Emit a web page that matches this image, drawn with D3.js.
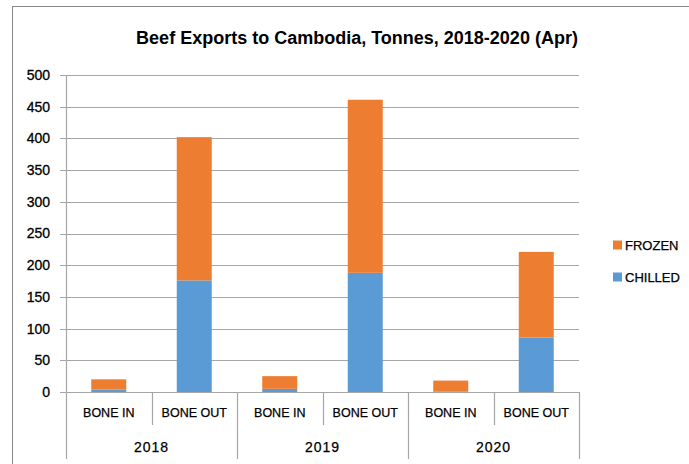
<!DOCTYPE html>
<html><head><meta charset="utf-8">
<script src="https://cdn.jsdelivr.net/npm/d3@7"></script>
<style>body{margin:0;background:#fff;} svg{display:block;}</style>
</head><body>
<script>
const years = ["2018", "2019", "2020"];
const cuts = ["BONE IN", "BONE OUT"];
const categories = ["2018|BONE IN", "2018|BONE OUT", "2019|BONE IN", "2019|BONE OUT", "2020|BONE IN", "2020|BONE OUT"];
const chilled = [4, 176, 5, 188, 1, 86];
const frozen = [16, 226, 20, 273, 17, 135];
const seriesNames = ["CHILLED", "FROZEN"];
const colors = ["#5B9BD5", "#ED7D31"];
const yTicks = [0, 50, 100, 150, 200, 250, 300, 350, 400, 450, 500];

(function () {
const W = 689, H = 464;
const font = "'Liberation Sans', Arial, sans-serif";
const svg = d3.select("body").append("svg").attr("width", W).attr("height", H);
svg.append("rect").attr("x", 12.5).attr("y", 6.5).attr("width", 700).attr("height", 500)
  .attr("fill", "#fff").attr("stroke", "#888").attr("stroke-width", 1);

const mLeft = 66, mRight = 579, mTop = 75, mBottom = 392;
const x = d3.scaleBand().domain(categories).range([mLeft, mRight]).paddingInner(0).paddingOuter(0);
const y = d3.scaleLinear().domain([0, 500]).range([mBottom, mTop]);

// gridlines
svg.append("g").selectAll("line").data(yTicks).join("line")
  .attr("x1", mLeft - 6).attr("x2", mRight).attr("y1", d => Math.round(y(d)) + 0.5).attr("y2", d => Math.round(y(d)) + 0.5)
  .attr("stroke", "#a6a6a6").attr("stroke-width", 1.2);

// y axis labels
svg.append("g").selectAll("text").data(yTicks).join("text")
  .attr("x", 50).attr("y", d => y(d)).attr("dy", "0.35em").attr("text-anchor", "end")
  .attr("font-family", font).attr("font-size", 14).attr("fill", "#000")
  .attr("stroke", "#000").attr("stroke-width", 0.3).text(d => d);

// stacked bars
const data = categories.map((c, i) => ({c, vals: [chilled[i], frozen[i]]}));
const stack = d3.stack().keys([0, 1]).value((d, k) => d.vals[k]);
const stacked = stack(data);
const bw = 35;
stacked.forEach((layer, si) => {
  svg.append("g").selectAll("rect").data(layer).join("rect")
    .attr("x", d => x(d.data.c) + (x.bandwidth() - bw) / 2)
    .attr("width", bw)
    .attr("y", d => y(d[1]))
    .attr("height", d => y(d[0]) - y(d[1]))
    .attr("fill", colors[si]);
});

// y axis line
svg.append("line").attr("x1", mLeft + 0.5).attr("x2", mLeft + 0.5).attr("y1", mTop).attr("y2", 459)
  .attr("stroke", "#a6a6a6").attr("stroke-width", 1.2);

// category axis separators
const ax = svg.append("g");
categories.forEach((c, i) => {
  const xr = x(c) + x.bandwidth();
  const isYearEnd = i % 2 === 1;
  ax.append("line").attr("x1", Math.round(xr) + 0.5).attr("x2", Math.round(xr) + 0.5)
    .attr("y1", mBottom).attr("y2", isYearEnd ? 459 : 425)
    .attr("stroke", "#a6a6a6").attr("stroke-width", 1.2);
  ax.append("text").attr("x", x(c) + x.bandwidth() / 2).attr("y", 413).attr("dy", "0.35em")
    .attr("text-anchor", "middle").attr("font-family", font).attr("font-size", 12.5).attr("fill", "#000")
    .attr("stroke", "#000").attr("stroke-width", 0.25)
    .text(c.split("|")[1]);
});
years.forEach((yr, j) => {
  const c0 = categories[j * 2], c1 = categories[j * 2 + 1];
  const cx = (x(c0) + x(c1) + x.bandwidth()) / 2;
  ax.append("text").attr("x", cx).attr("y", 447).attr("dy", "0.35em")
    .attr("text-anchor", "middle").attr("font-family", font).attr("font-size", 14).attr("fill", "#000")
    .attr("stroke", "#000").attr("stroke-width", 0.25)
    .attr("letter-spacing", 1).text(yr);
});

// title
svg.append("text").attr("x", 357).attr("y", 38).attr("dy", "0.35em").attr("text-anchor", "middle")
  .attr("font-family", font).attr("font-size", 18).attr("font-weight", "bold").attr("fill", "#000")
  .text("Beef Exports to Cambodia, Tonnes, 2018-2020 (Apr)");

// legend
const legendItems = [{name: "FROZEN", color: colors[1], y: 245}, {name: "CHILLED", color: colors[0], y: 277}];
const lg = svg.append("g");
lg.selectAll("rect").data(legendItems).join("rect")
  .attr("x", 613).attr("y", d => d.y - 4.5).attr("width", 9).attr("height", 9).attr("fill", d => d.color);
lg.selectAll("text").data(legendItems).join("text")
  .attr("x", 625).attr("y", d => d.y).attr("dy", "0.35em")
  .attr("font-family", font).attr("font-size", 13).attr("fill", "#000")
  .attr("stroke", "#000").attr("stroke-width", 0.25).text(d => d.name);
})();
</script>
</body></html>
